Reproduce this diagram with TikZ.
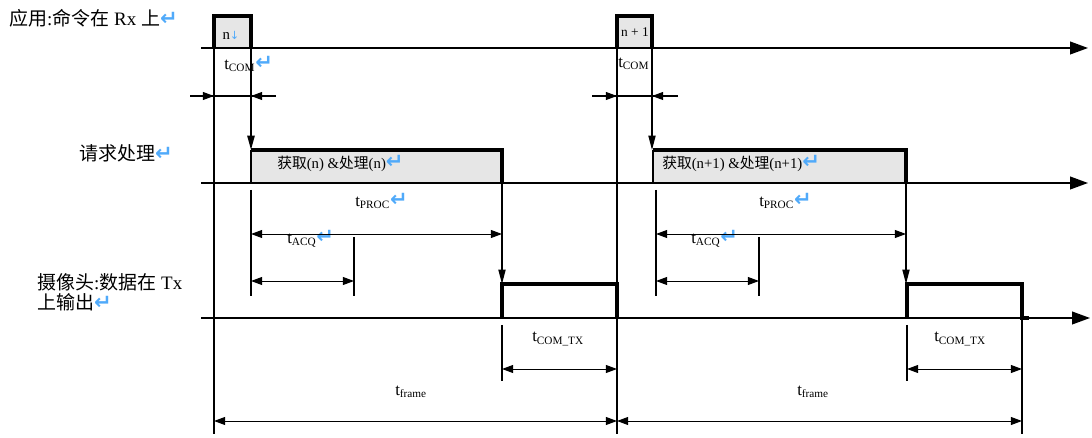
\documentclass[tikz,border=0pt]{standalone}
\usepackage{fontspec}
\setmainfont{Liberation Serif}
\newfontfamily\cjk{Noto Sans CJK SC}
\newfontfamily\symfont{DejaVu Sans}
\usepackage{xcolor}
\usetikzlibrary{arrows.meta}
\definecolor{markblue}{RGB}{80,170,250}
\definecolor{boxgray}{RGB}{230,230,230}
\newcommand{\pmark}{{\symfont\bfseries\fontsize{15}{15}\selectfont\color{markblue}↵}}
\newcommand{\lmark}{{\symfont\color{markblue}\footnotesize↓}}

\begin{document}
\begin{tikzpicture}[
      x=0.025cm, y=-0.025cm,
      base/.style={line width=1.1pt, -{Triangle[length=4.5mm,width=3.2mm]}},
      hi/.style={line width=2.2pt},
      guide/.style={line width=0.8pt},
      mline/.style={line width=1.4pt},
      down/.style={line width=0.8pt, -{Triangle[length=3.6mm,width=1.8mm]}},
      dim/.style={line width=0.7pt, {Triangle[length=2.8mm,width=2mm]}-{Triangle[length=2.8mm,width=2mm]}},
      tip/.style={line width=0.7pt, -{Triangle[length=2.8mm,width=2mm]}},
      lbl/.style={font=\fontsize{13.5}{14.5}\selectfont, inner sep=0pt},
      txt/.style={font=\fontsize{10.5}{12}\selectfont, inner sep=0pt},
      tlab/.style={font=\fontsize{12}{14}\selectfont, inner sep=0pt, anchor=west}
  ]
    \useasboundingbox (0,0) rectangle (1092,438);
    \fill[boxgray] (214,16) rectangle (251,48);
    \fill[boxgray] (617,16) rectangle (652,48);
    \fill[boxgray] (251,150) rectangle (502,183);
    \fill[boxgray] (653,150) rectangle (906,183);

    \node[lbl, anchor=west] (rx) at (9,18) {{\cjk 应用}:{\cjk 命令在} Rx {\cjk 上}\pmark};
    \node[lbl, anchor=west] (req) at (79,153) {{\cjk 请求处理}\pmark};
    \node[lbl, anchor=north west, align=left] (tx) at (37,273) {{\cjk 摄像头}:{\cjk 数据在} Tx\\{\cjk 上输出}\pmark};

    \node[txt] (cmd1) at (231,35) {n\lmark};
    \node[txt, font=\fontsize{9.5}{11}\selectfont] (cmd2) at (635,32) {n + 1};
    \node[txt, anchor=west] (proc1) at (277,163) {{\cjk 获取}(n) \&{\cjk 处理}(n)\pmark};
    \node[txt, anchor=west] (proc2) at (662,163) {{\cjk 获取}(n+1) \&{\cjk 处理}(n+1)\pmark};

    \node[tlab] (tcom1) at (224,64) {t\textsubscript{COM}\pmark};
    \node[tlab] (tcom2) at (618,64) {t\textsubscript{COM}};
    \node[tlab] (tproc1) at (355,201) {t\textsubscript{PROC}\pmark};
    \node[tlab] (tproc2) at (759,201) {t\textsubscript{PROC}\pmark};
    \node[tlab] (tacq1) at (287,239) {t\textsubscript{ACQ}\pmark};
    \node[tlab] (tacq2) at (691,239) {t\textsubscript{ACQ}\pmark};
    \node[tlab] (tctx1) at (532,339) {t\textsubscript{COM\_TX}};
    \node[tlab] (tctx2) at (934,339) {t\textsubscript{COM\_TX}};
    \node[tlab] (tfr1) at (395,392) {t\textsubscript{frame}};
    \node[tlab] (tfr2) at (797,392) {t\textsubscript{frame}};

    \draw[base] (201,48) -- (1088,48);
    \draw[base] (201,183) -- (1088,183);
    \draw[base] (201,318) -- (1090,318);

    \draw[hi] (214,48) -- (214,16) -- (251,16) -- (251,48);
    \draw[hi] (617,48) -- (617,16) -- (652,16) -- (652,48);
    \draw[line width=1pt] (251,183) -- (251,150);
    \draw[hi] (251,150) -- (502,150) -- (502,183);
    \draw[line width=1pt] (653,183) -- (653,150);
    \draw[hi] (653,150) -- (906,150) -- (906,183);
    \draw[hi] (502,318) -- (502,284) -- (617,284) -- (617,318);
    \draw[hi] (907,318) -- (907,284) -- (1022,284) -- (1022,318) -- (1029,318);

    \draw[guide] (214,48) -- (214,434);
    \draw[mline] (617,48) -- (617,373);
    \draw[guide] (617,373) -- (617,434);
    \draw[guide] (1022,318) -- (1022,434);
    \draw[mline, -{Triangle[length=3.6mm,width=1.8mm]}] (251,48) -- (251,150);
    \draw[down] (652,48) -- (652,150);
    \draw[down] (502,183) -- (502,284);
    \draw[down] (906,183) -- (906,284);

    \draw[guide] (190,96) -- (276,96);
    \draw[tip] (190,96) -- (214,96);
    \draw[tip] (276,96) -- (251,96);
    \draw[guide] (592,96) -- (678,96);
    \draw[tip] (592,96) -- (617,96);
    \draw[tip] (678,96) -- (652,96);

    \draw[mline] (251,190) -- (251,296);
    \draw[guide] (354,237) -- (354,296);
    \draw[dim] (251,234) -- (502,234);
    \draw[dim] (251,281) -- (354,281);
    \draw[mline] (656,190) -- (656,296);
    \draw[guide] (759,237) -- (759,296);
    \draw[dim] (656,234) -- (906,234);
    \draw[dim] (656,281) -- (759,281);

    \draw[guide] (502,325) -- (502,381);
    \draw[dim] (502,369) -- (617,369);
    \draw[guide] (907,325) -- (907,381);
    \draw[dim] (907,369) -- (1022,369);
    \draw[dim] (214,421) -- (617,421);
    \draw[dim] (617,421) -- (1022,421);
  \end{tikzpicture}
\end{document}
